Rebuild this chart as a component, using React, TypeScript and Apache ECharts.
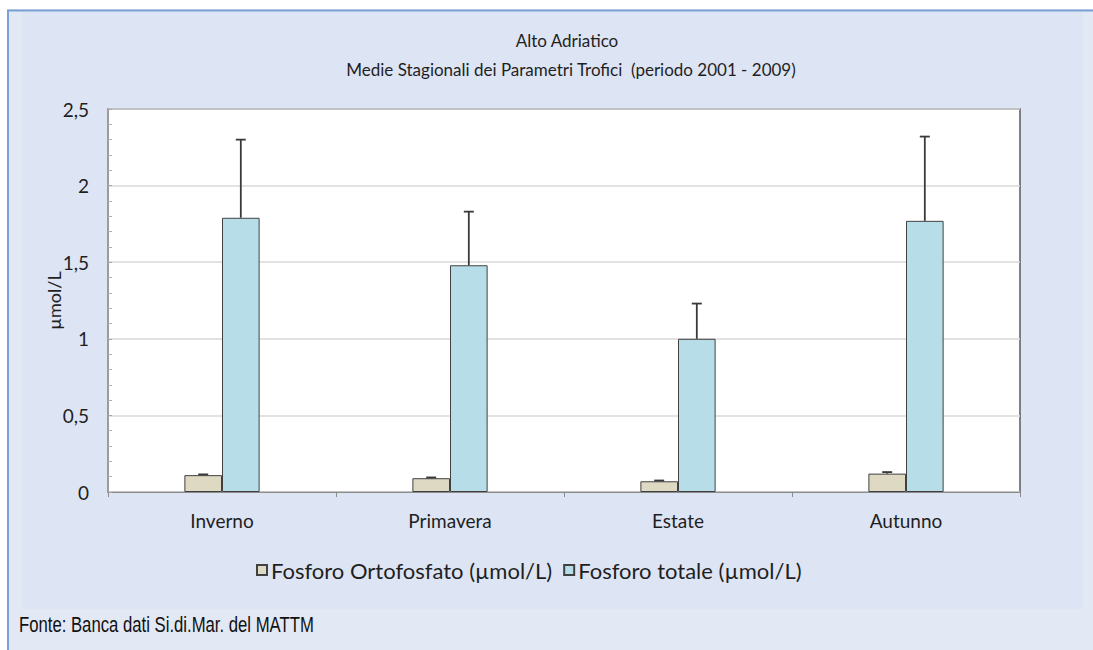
import React, { useEffect, useRef } from "react";
import * as echarts from "echarts";

const categories = ["Inverno", "Primavera", "Estate", "Autunno"];
const ortofosfato = [0.11, 0.09, 0.07, 0.12];
const ortofosfatoErr = [0.115, 0.095, 0.075, 0.13];
const totale = [1.79, 1.48, 1.0, 1.77];
const totaleErr = [2.3, 1.83, 1.23, 2.32];
const yTicks = [0, 0.5, 1, 1.5, 2, 2.5];
const seriesNames = ["Fosforo Ortofosfato (µmol/L)", "Fosforo totale (µmol/L)"];

const FONT = "Lato, 'Open Sans', sans-serif";
const TXT = "#1f1f1f";
const BAR_FRAC = 0.165;

export default function App() {
  const ref = useRef<HTMLDivElement>(null);
  useEffect(() => {
    if (!ref.current) return;
    const chart = echarts.init(ref.current, undefined, { renderer: "svg" });

    const errorSeries = (vals: number[], tops: number[], side: number) => ({
      type: "custom",
      silent: true,
      z: 5,
      data: vals.map((v, i) => [i, v, tops[i]]),
      renderItem: (params: any, api: any) => {
        const idx = api.value(0);
        const base = api.coord([idx, api.value(1)]);
        const top = api.coord([idx, api.value(2)]);
        const bw = api.size([1, 0])[0] * BAR_FRAC;
        const x = base[0] + side * bw / 2;
        const cap = 5;
        const style = { stroke: "#3a3a3a", lineWidth: 1.8 };
        return {
          type: "group",
          children: [
            { type: "line", shape: { x1: x, y1: base[1], x2: x, y2: top[1] }, style },
            { type: "line", shape: { x1: x - cap, y1: top[1], x2: x + cap, y2: top[1] }, style },
          ],
        };
      },
    });

    chart.setOption({
      animation: false,
      backgroundColor: "#ffffff",
      textStyle: { fontFamily: FONT },
      graphic: [
        { type: "rect", z: -10, shape: { x: 7, y: 9, width: 1086, height: 641 }, style: { fill: "#e3e8f5" } },
        { type: "rect", z: -9, shape: { x: 22, y: 12, width: 1061, height: 597 }, style: { fill: "#dde4f4" } },
        { type: "line", z: -8, shape: { x1: 7, y1: 10.5, x2: 1093, y2: 10.5 }, style: { stroke: "#7aa0d4", lineWidth: 2 } },
        { type: "line", z: -8, shape: { x1: 8, y1: 10, x2: 8, y2: 650 }, style: { stroke: "#7aa0d4", lineWidth: 2 } },
        {
          type: "text",
          x: 19,
          y: 613,
          scaleX: 0.76,
          style: {
            text: "Fonte: Banca dati Si.di.Mar. del MATTM",
            fontFamily: "'Liberation Sans', Arial, sans-serif",
            fontSize: 22,
            fill: "#111111",
          },
        },
        {
          type: "text",
          x: 567,
          y: 32,
          style: { text: "Alto Adriatico", fontFamily: FONT, fontSize: 17, fill: TXT, textAlign: "center" },
        },
        {
          type: "text",
          x: 571,
          y: 61,
          style: { text: "Medie Stagionali dei Parametri Trofici  (periodo 2001 - 2009)", fontFamily: FONT, fontSize: 17, fill: TXT, textAlign: "center" },
        },
      ],
      legend: {
        data: seriesNames,
        top: 554,
        left: 251,
        icon: "rect",
        itemWidth: 10,
        itemHeight: 10,
        itemGap: 11,
        textStyle: { fontFamily: FONT, fontSize: 22, color: TXT, padding: [0, 0, 0, -1] },
      },
      grid: {
        left: 108,
        right: 73,
        top: 109,
        bottom: 158,
        show: true,
        backgroundColor: "#ffffff",
        borderColor: "#5a5a5a",
        borderWidth: 1.5,
      },
      xAxis: {
        type: "category",
        data: categories,
        axisLine: { lineStyle: { color: "#8c8c8c", width: 1 } },
        axisTick: { show: true, length: 5, lineStyle: { color: "#8c8c8c" } },
        axisLabel: { fontFamily: FONT, fontSize: 19, color: TXT, margin: 19 },
      },
      yAxis: {
        type: "value",
        min: 0,
        max: 2.5,
        interval: 0.5,
        name: "µmol/L",
        nameLocation: "middle",
        nameGap: 45,
        nameMoveOverlap: false,
        nameRotate: 90,
        nameTextStyle: { fontFamily: FONT, fontSize: 18, color: TXT },
        axisLine: { show: true, lineStyle: { color: "#a6a6a6", width: 1.5 } },
        axisTick: { show: true, inside: true, length: 4, lineStyle: { color: "#a6a6a6" } },
        minorTick: { show: true, splitNumber: 5, length: 4, lineStyle: { color: "#b0b0b0" } },
        splitLine: { show: true, lineStyle: { color: "#d9d9d9", width: 1.5 } },
        axisLabel: {
          fontFamily: FONT,
          fontSize: 19,
          color: TXT,
          margin: 19,
          formatter: (v: number) => (yTicks.includes(v) ? String(v).replace(".", ",") : ""),
        },
      },
      series: [
        {
          name: seriesNames[0],
          type: "bar",
          data: ortofosfato,
          barWidth: BAR_FRAC * 100 + "%",
          barGap: "0%",
          itemStyle: { color: "#ddd9c3", borderColor: "#404040", borderWidth: 1 },
        },
        {
          name: seriesNames[1],
          type: "bar",
          data: totale,
          barWidth: BAR_FRAC * 100 + "%",
          barGap: "0%",
          itemStyle: { color: "#b7dde8", borderColor: "#404040", borderWidth: 1 },
        },
        errorSeries(ortofosfato, ortofosfatoErr, -1),
        errorSeries(totale, totaleErr, 1),
      ],
    });
    return () => chart.dispose();
  }, []);
  return (
    <div
      ref={ref}
      style={{ position: "fixed", left: 0, top: 0, width: 1093, height: 650 }}
    />
  );
}
